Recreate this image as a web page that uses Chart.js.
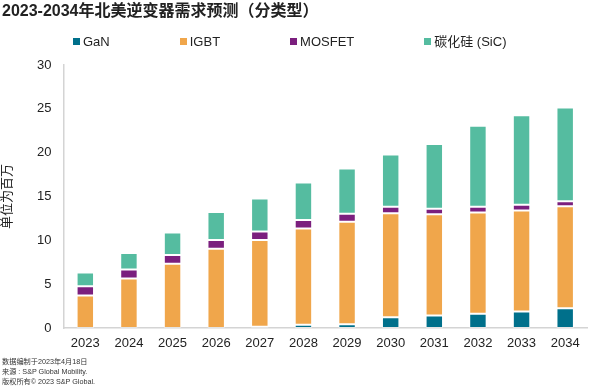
<!DOCTYPE html>
<html lang="zh">
<head>
    <meta charset="UTF-8">
    <title>2023-2034年北美逆变器需求预测（分类型）</title>
    <style>
        body {
            margin: 0;
            font-family: "Liberation Sans", "Noto Sans CJK SC", sans-serif;
            color: #222;
        }

        .wrap {
            position: relative;
            width: 590px;
            height: 388px;
            overflow: hidden;
        }

        .title {
            position: absolute;
            left: 2px;
            top: 1px;
            font-size: 16px;
            font-weight: bold;
            line-height: 20px;
            white-space: nowrap;
        }

        .legend {
            position: absolute;
            left: 73px;
            top: 34px;
            display: flex;
            gap: 70px;
            font-size: 13px;
            line-height: 16px;
            color: #222;
            white-space: nowrap;
        }

        .legend span.box {
            display: inline-block;
            width: 7px;
            height: 7px;
            margin-right: 3px;
            vertical-align: 1px;
        }

        .notes {
            position: absolute;
            left: 2px;
            top: 357px;
            font-size: 7.2px;
            line-height: 10px;
            color: #333;
            white-space: nowrap;
        }

        canvas {
            position: absolute;
            left: 0;
            top: 0;
        }
    </style>
    <script src="https://cdn.jsdelivr.net/npm/chart.js"></script>
</head>
<body>
<div class="wrap">
    <canvas id="chart" width="590" height="388"></canvas>
    <div class="title">2023-2034年北美逆变器需求预测（分类型）</div>
    <div class="legend" id="legend"></div>
    <div class="notes">
        数据编制于2023年4月18日<br>
        来源 : S&amp;P Global Mobility.<br>
        版权所有© 2023 S&amp;P Global.
    </div>
</div>

<script>
    // values, in millions
    const years = ['2023', '2024', '2025', '2026', '2027', '2028', '2029', '2030', '2031', '2032', '2033', '2034'];
    const gan = [0, 0, 0, 0, 0.15, 0.38, 0.44, 1.23, 1.43, 1.62, 1.88, 2.26];
    const igbt = [3.72, 5.66, 7.33, 9.04, 9.88, 10.98, 11.67, 11.86, 11.55, 11.55, 11.52, 11.63];
    const mosfet = [1.03, 1.02, 0.99, 0.99, 0.99, 0.95, 0.91, 0.73, 0.61, 0.65, 0.65, 0.57];
    const sic = [1.59, 1.87, 2.58, 3.20, 3.76, 4.29, 5.17, 5.96, 7.41, 9.24, 10.22, 10.68];
    const yTicks = [0, 5, 10, 15, 20, 25, 30];

    const seriesNames = ['GaN', 'IGBT', 'MOSFET', '碳化硅 (SiC)'];
    const seriesColors = ['#00708b', '#f0a64b', '#7b1f7e', '#55bca0'];
    const seriesData = [gan, igbt, mosfet, sic];

    const datasets = seriesNames.map((name, i) => ({
        label: name,
        data: seriesData[i],
        backgroundColor: seriesColors[i],
        borderColor: 'rgba(255,255,255,0.35)',
        borderWidth: 1,
        borderSkipped: false,
        barPercentage: 0.4,
        categoryPercentage: 1.0
    }));

    // html legend built from the datasets
    const legendEl = document.getElementById('legend');
    datasets.forEach(ds => {
        const item = document.createElement('div');
        item.innerHTML = '<span class="box" style="background:' + ds.backgroundColor + '"></span>' + ds.label;
        legendEl.appendChild(item);
    });

    const axisFont = {family: '"Liberation Sans", "Noto Sans CJK SC", sans-serif', size: 13};

    new Chart(document.getElementById('chart'), {
        type: 'bar',
        data: {labels: years, datasets: datasets},
        options: {
            responsive: false,
            animation: false,
            layout: {padding: {top: 65, right: 3, bottom: 30, left: 0}},
            plugins: {
                legend: {display: false},
                tooltip: {enabled: false}
            },
            scales: {
                x: {
                    stacked: true,
                    grid: {display: false},
                    border: {color: '#d4d4d4', width: 1.5},
                    ticks: {color: '#222', font: axisFont, padding: 0, maxRotation: 0},
                    afterFit: scale => { scale.height = 30; }
                },
                y: {
                    stacked: true,
                    min: 0,
                    max: 30,
                    afterBuildTicks: scale => { scale.ticks = yTicks.map(v => ({value: v})); },
                    grid: {display: false},
                    border: {color: '#d4d4d4', width: 1.5},
                    ticks: {color: '#222', font: axisFont, padding: 4},
                    title: {
                        display: true,
                        text: '单位为百万',
                        color: '#222',
                        font: {family: axisFont.family, size: 13, lineHeight: 0.65},
                        padding: {top: 3.5, bottom: 0}
                    },
                    afterFit: scale => { scale.width = 63.5; }
                }
            }
        }
    });
</script>
</body>
</html>
